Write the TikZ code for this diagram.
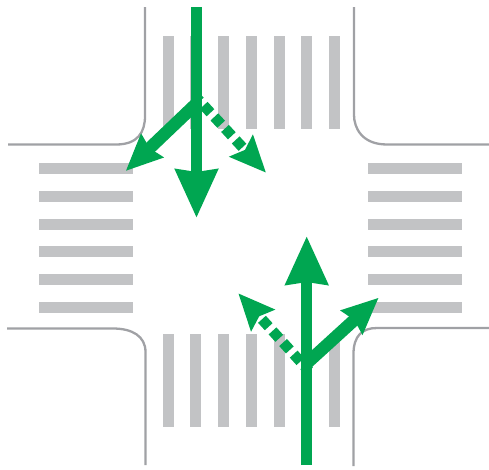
\documentclass[tikz,border=0pt]{standalone}
\usepackage{tikz}
\usetikzlibrary{arrows.meta}
\definecolor{signalGreen}{RGB}{0, 166, 81}
\definecolor{stripeGray}{RGB}{194, 195, 197}
\definecolor{curbGray}{RGB}{160, 161, 165}
\begin{document}
\begin{tikzpicture}[
    x=1pt, y=-1pt,
    curb/.style={draw=curbGray, line width=2.3pt},
    stripe/.style={fill=stripeGray, draw=none},
    straightarrow/.style={draw=signalGreen, line width=11pt, -{Stealth[length=48pt, width=41pt, inset=2pt]}},
    turnarrow/.style={draw=signalGreen, line width=12.5pt, -{Stealth[length=36pt, width=31pt, inset=3pt]}},
    dottedarrow/.style={draw=signalGreen, line width=10.5pt, dash pattern=on 10pt off 5.7pt, dash phase=2.9pt, -{Stealth[length=36pt, width=31pt, inset=5pt]}}
]
    \useasboundingbox (0,0) rectangle (489,469);

    % Curbs
    \draw[curb] (145,7) -- (145,116) .. controls (145,132) and (138,144.5) .. (116,144.5) -- (8,144.5);
    \draw[curb] (354,7) -- (354,115) .. controls (354,128) and (362,144.5) .. (387,144.5) -- (489,144.5);
    \draw[curb] (7,328.5) -- (113,328.5) .. controls (132,328.5) and (145.5,336) .. (145.5,352) -- (145.5,465);
    \draw[curb] (489,328) -- (377,328) .. controls (362,328) and (353.5,336) .. (353.5,354) -- (353.5,466);

    % Crossings
    \foreach \pos in {0,...,6} {
        \fill[stripe] (162.7+27.7*\pos,36) rectangle ++(11,93);
        \fill[stripe] (162.7+27.7*\pos,334) rectangle ++(11,93);
    }
    \foreach \pos in {0,...,5} {
        \fill[stripe] (39,163.3+27.7*\pos) rectangle ++(94,11);
        \fill[stripe] (368,163.3+27.7*\pos) rectangle ++(94,11);
    }

    % Arrow ends
    \coordinate (northTail) at (196.5,7);
    \coordinate (northFork) at (197,103);
    \coordinate (northDash) at (195,96);
    \coordinate (northAhead) at (196.5,218);
    \coordinate (northTurn) at (125.7,171);
    \coordinate (northOther) at (266,172.7);
    \coordinate (southTail) at (306.7,465);
    \coordinate (southFork) at (306,364);
    \coordinate (southDash) at (309,371);
    \coordinate (southAhead) at (306.7,236);
    \coordinate (southTurn) at (378.7,297.7);
    \coordinate (southOther) at (238.3,293.3);

    % Arrows
    \draw[dottedarrow] (northDash) -- (northOther);
    \draw[turnarrow] (northFork) -- (northTurn);
    \draw[straightarrow] (northTail) -- (northAhead);

    \draw[dottedarrow] (southDash) -- (southOther);
    \draw[turnarrow] (southFork) -- (southTurn);
    \draw[straightarrow] (southTail) -- (southAhead);
\end{tikzpicture}
\end{document}
